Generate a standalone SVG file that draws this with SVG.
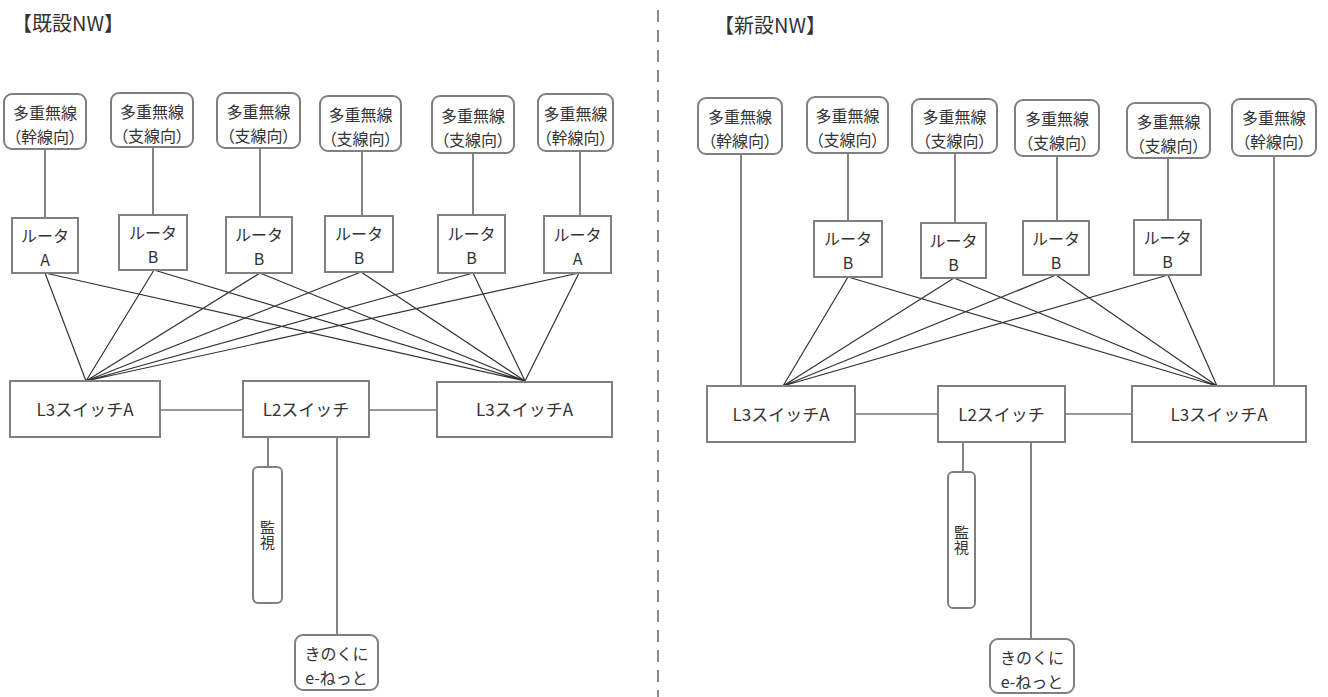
<svg xmlns="http://www.w3.org/2000/svg" width="1328" height="697" viewBox="0 0 1328 697">
<style>
text{font-family:"Noto Sans CJK JP","Noto Sans",sans-serif;fill:#333;text-anchor:middle}
.title{font-size:20px;text-anchor:start}
.rad{fill:#fff;stroke:#808080;stroke-width:2}
.box{fill:#fff;stroke:#808080;stroke-width:2}
.t16{font-size:16px}
.p{font-feature-settings:"palt"}
.t15{font-size:17px}
.v{font-size:15px;writing-mode:vertical-rl}
.ln{stroke:#333;stroke-width:1.2;fill:none}
.sep{stroke:#888;stroke-width:2;stroke-dasharray:12 8}
</style>
<rect width="1328" height="697" fill="#fff"/>
<text class="title" x="12" y="31">【既設NW】</text>
<text class="title" x="714" y="33">【新設NW】</text>
<line class="sep" x1="658" y1="10" x2="658" y2="697"/>
<g id="connectors">
<path class="ln" d="M45 149V218M153 147V215M260 148V217M362 151V216M473 153V215M580 151V216"/>
<path class="ln" d="M45 273L86 381M45 273L525 381M154 270L86 381M154 270L525 381M260 273L86 381M260 273L525 381M361 272L86 381M361 272L525 381M473 273L86 381M473 273L525 381M579 273L86 381M579 273L525 381"/>
<path class="ln" d="M160 410H243M369 410H437M268 437V467M337 437V635"/>
<path class="ln" d="M741 154V386M848 153V221M955 153V223M1057 156V221M1168 158V220M1274 156V386"/>
<path class="ln" d="M848 277L783 386M848 277L1217 386M954 278L783 386M954 278L1217 386M1056 275L783 386M1056 275L1217 386M1168 275L783 386M1168 275L1217 386"/>
<path class="ln" d="M855 414H938M1065 414H1132M963 442V472M1031 442V639"/>
</g>
<g id="l-rad1"><rect class="rad" x="4" y="94" width="82" height="55" rx="8"/><text class="t16" x="45" y="119">多重無線<tspan class="p" x="45" dy="23.5">（幹線向）</tspan></text></g>
<g id="l-rad2"><rect class="rad" x="111" y="93" width="82" height="54" rx="8"/><text class="t16" x="152" y="118">多重無線<tspan class="p" x="152" dy="23.5">（支線向）</tspan></text></g>
<g id="l-rad3"><rect class="rad" x="217" y="93" width="83" height="55" rx="8"/><text class="t16" x="258.5" y="118">多重無線<tspan class="p" x="258.5" dy="23.5">（支線向）</tspan></text></g>
<g id="l-rad4"><rect class="rad" x="320" y="96" width="81" height="55" rx="8"/><text class="t16" x="360.5" y="121">多重無線<tspan class="p" x="360.5" dy="23.5">（支線向）</tspan></text></g>
<g id="l-rad5"><rect class="rad" x="432" y="96" width="82" height="57" rx="8"/><text class="t16" x="473" y="122">多重無線<tspan class="p" x="473" dy="23.5">（支線向）</tspan></text></g>
<g id="l-rad6"><rect class="rad" x="538" y="94" width="75" height="57" rx="8"/><text class="t16" x="575.5" y="120">多重無線<tspan class="p" x="575.5" dy="23.5">（幹線向）</tspan></text></g>
<g id="l-rt1"><rect class="box" x="12" y="218" width="66" height="55"/><text class="t16" x="45" y="242">ルータ<tspan x="45" dy="23.5">A</tspan></text></g>
<g id="l-rt2"><rect class="box" x="119" y="215" width="68" height="55"/><text class="t16" x="153" y="239">ルータ<tspan x="153" dy="23.5">B</tspan></text></g>
<g id="l-rt3"><rect class="box" x="226" y="217" width="66" height="56"/><text class="t16" x="259" y="241">ルータ<tspan x="259" dy="23.5">B</tspan></text></g>
<g id="l-rt4"><rect class="box" x="325" y="216" width="68" height="56"/><text class="t16" x="359" y="240">ルータ<tspan x="359" dy="23.5">B</tspan></text></g>
<g id="l-rt5"><rect class="box" x="438" y="215" width="67" height="58"/><text class="t16" x="471.5" y="240">ルータ<tspan x="471.5" dy="23.5">B</tspan></text></g>
<g id="l-rt6"><rect class="box" x="544" y="216" width="67" height="57"/><text class="t16" x="577.5" y="241">ルータ<tspan x="577.5" dy="23.5">A</tspan></text></g>
<g id="l-l3a"><rect class="box" x="10" y="381" width="150" height="56"/><text class="t15" x="85" y="416">L3スイッチA</text></g>
<g id="l-l2"><rect class="box" x="243" y="381" width="126" height="56"/><text class="t15" x="306" y="416">L2スイッチ</text></g>
<g id="l-l3b"><rect class="box" x="437" y="382" width="175" height="55"/><text class="t15" x="524.5" y="416">L3スイッチA</text></g>
<g id="l-mon"><rect class="rad" x="253" y="467" width="29" height="136" rx="5"/><text class="v" x="267.5" y="535">監視</text></g>
<g id="l-net"><rect class="rad" x="295" y="635" width="83" height="55" rx="8"/><text class="t16" x="336.5" y="660">きのくに<tspan x="336.5" dy="23.5">e-ねっと</tspan></text></g>
<g id="r-rad1"><rect class="rad" x="698" y="98" width="84" height="56" rx="8"/><text class="t16" x="740" y="123">多重無線<tspan class="p" x="740" dy="23.5">（幹線向）</tspan></text></g>
<g id="r-rad2"><rect class="rad" x="807" y="97" width="81" height="56" rx="8"/><text class="t16" x="847.5" y="122">多重無線<tspan class="p" x="847.5" dy="23.5">（支線向）</tspan></text></g>
<g id="r-rad3"><rect class="rad" x="912" y="99" width="85" height="54" rx="8"/><text class="t16" x="954.5" y="123">多重無線<tspan class="p" x="954.5" dy="23.5">（支線向）</tspan></text></g>
<g id="r-rad4"><rect class="rad" x="1015" y="100" width="84" height="56" rx="8"/><text class="t16" x="1057" y="125">多重無線<tspan class="p" x="1057" dy="23.5">（支線向）</tspan></text></g>
<g id="r-rad5"><rect class="rad" x="1127" y="103" width="83" height="55" rx="8"/><text class="t16" x="1168.5" y="128">多重無線<tspan class="p" x="1168.5" dy="23.5">（支線向）</tspan></text></g>
<g id="r-rad6"><rect class="rad" x="1232" y="99" width="84" height="57" rx="8"/><text class="t16" x="1274" y="124">多重無線<tspan class="p" x="1274" dy="23.5">（幹線向）</tspan></text></g>
<g id="r-rt1"><rect class="box" x="814" y="221" width="68" height="56"/><text class="t16" x="848" y="245">ルータ<tspan x="848" dy="23.5">B</tspan></text></g>
<g id="r-rt2"><rect class="box" x="921" y="223" width="65" height="55"/><text class="t16" x="953.5" y="247">ルータ<tspan x="953.5" dy="23.5">B</tspan></text></g>
<g id="r-rt3"><rect class="box" x="1023" y="221" width="66" height="54"/><text class="t16" x="1056" y="245">ルータ<tspan x="1056" dy="23.5">B</tspan></text></g>
<g id="r-rt4"><rect class="box" x="1134" y="220" width="67" height="55"/><text class="t16" x="1167.5" y="244">ルータ<tspan x="1167.5" dy="23.5">B</tspan></text></g>
<g id="r-l3a"><rect class="box" x="707" y="386" width="148" height="56"/><text class="t15" x="781" y="421">L3スイッチA</text></g>
<g id="r-l2"><rect class="box" x="938" y="386" width="127" height="56"/><text class="t15" x="1001.5" y="421">L2スイッチ</text></g>
<g id="r-l3b"><rect class="box" x="1132" y="386" width="174" height="56"/><text class="t15" x="1219" y="421">L3スイッチA</text></g>
<g id="r-mon"><rect class="rad" x="948" y="472" width="27" height="136" rx="5"/><text class="v" x="961.5" y="540">監視</text></g>
<g id="r-net"><rect class="rad" x="990" y="639" width="84" height="54" rx="8"/><text class="t16" x="1032" y="664">きのくに<tspan x="1032" dy="23.5">e-ねっと</tspan></text></g>
</svg>
